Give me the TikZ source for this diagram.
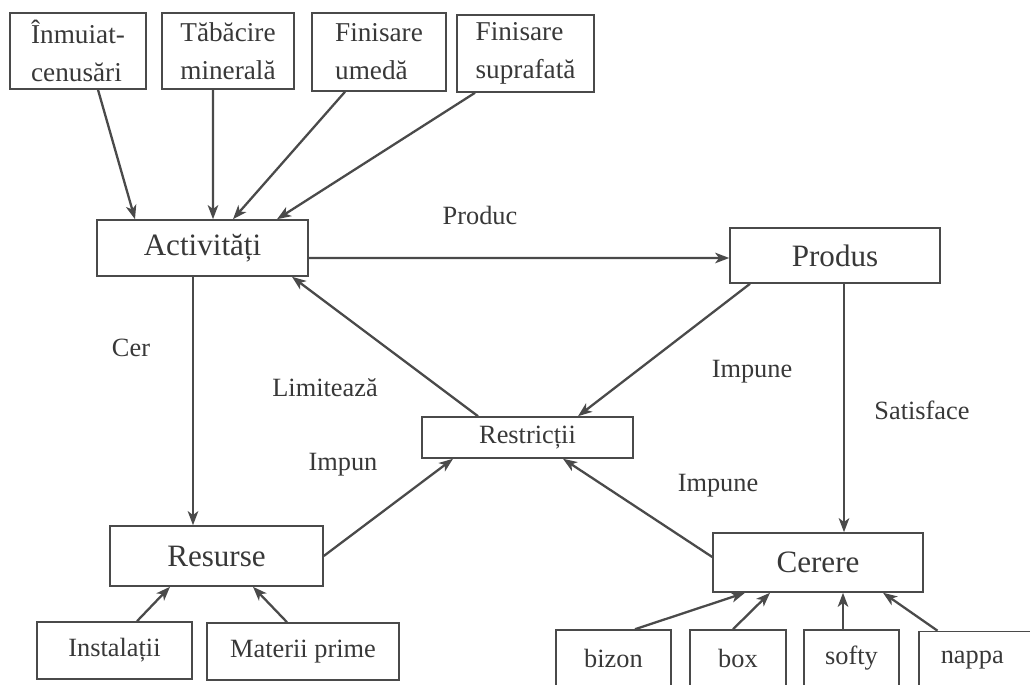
\documentclass[tikz,border=0pt]{standalone}
\usepackage{fontspec}
\setmainfont{Liberation Serif}
\usetikzlibrary{arrows.meta,calc}
\definecolor{ink}{HTML}{4A4A4A}
\definecolor{txt}{HTML}{383838}

\begin{document}
\begin{tikzpicture}[x=0.02cm,y=-0.02cm]
	\tikzset{box/.style={draw=ink,line width=0.9pt,inner sep=0pt,text=txt,font=\fontsize{15}{18}\selectfont}}
	\tikzset{bigbox/.style={box,font=\fontsize{17.7}{21}\selectfont}}
	\tikzset{topbox/.style={box,align=left,font=\fontsize{15.5}{21.5}\selectfont}}
	\tikzset{lbl/.style={text=txt,inner sep=0pt,font=\fontsize{15}{18}\selectfont}}
	\tikzset{arr/.style={draw=ink,line width=1.3pt,-{Stealth[length=8pt,width=6pt,inset=2.2pt]}}}
	\useasboundingbox (0,0) rectangle (1030,685);
	% operatii
	\node[topbox,minimum width=2.72cm,minimum height=1.52cm] (inm) at (78,51) {Înmuiat-\\cenusări};
	\node[topbox,minimum width=2.64cm,minimum height=1.52cm] (tab) at (228,51) {Tăbăcire\\minerală};
	\node[topbox,minimum width=2.68cm,minimum height=1.56cm] (fum) at (379,52) {Finisare\\umedă};
	\node[topbox,minimum width=2.74cm,minimum height=1.54cm] (fsup) at (525.5,53.5) {Finisare\\suprafată};
	% entitati
	\node[bigbox,minimum width=4.22cm,minimum height=1.12cm] (act) at (202.5,248) {Activități};
	\node[bigbox,minimum width=4.2cm,minimum height=1.1cm] (prod) at (835,255.5) {Produs};
	\node[box,minimum width=4.22cm,minimum height=0.82cm] (restr) at (527.5,437.5) {Restricții};
	\node[bigbox,minimum width=4.26cm,minimum height=1.2cm] (resu) at (216.5,556) {Resurse};
	\node[bigbox,minimum width=4.2cm,minimum height=1.18cm] (cer) at (818,562.5) {Cerere};
	% resurse si articole
	\node[box,minimum width=3.1cm,minimum height=1.14cm] (inst) at (114.5,650.5) {Instalații};
	\node[box,minimum width=3.84cm,minimum height=1.14cm] (mat) at (303,651.5) {Materii prime};
	\node[box,minimum width=2.3cm,minimum height=1.14cm] (bizon) at (613.5,658.5) {bizon};
	\node[box,minimum width=1.92cm,minimum height=1.14cm] (boxp) at (738,658.5) {box};
	\node[box,minimum width=1.9cm,minimum height=1.14cm] (softy) at (851.5,658.5) {softy};
	\node[box,anchor=west,minimum height=1.14cm,inner xsep=0.44cm,text width=2.2cm,align=left] (nappa) at (918,660) {nappa};
	% etichete
	\node[lbl] (lprod) at (480,215) {Produc};
	\node[lbl] (lcer) at (131,348) {Cer};
	\node[lbl] (llim) at (325,388) {Limitează};
	\node[lbl] (limpun) at (343,465) {Impun};
	\node[lbl] (limpsus) at (752,372) {Impune};
	\node[lbl] (lsat) at (922,410) {Satisface};
	\node[lbl] (limpjos) at (718,486) {Impune};
	% legaturi
	\draw[arr] ($(inm.south)+(20,0)$) -- ($(act.north)+(-67.5,0)$);
	\draw[arr] ($(tab.south)+(-15,0)$) -- ($(act.north)+(10.5,0)$);
	\draw[arr] ($(fum.south)+(-34,0)$) -- ($(act.north)+(30.5,0)$);
	\draw[arr] ($(fsup.south)+(-50.5,0)$) -- ($(act.north)+(74.5,0)$);
	\draw[arr] ($(act.east)+(0,10)$) -- ($(prod.west)+(0,2.5)$);
	\draw[arr] ($(act.south)+(-9.5,0)$) -- ($(resu.north)+(-23.5,0)$);
	\draw[arr] ($(restr.north)+(-49.5,0)$) -- ($(act.south)+(89.5,0)$);
	\draw[arr] ($(prod.south)+(-85,0)$) -- ($(restr.north)+(50.5,0)$);
	\draw[arr] ($(prod.south)+(9,0)$) -- ($(cer.north)+(26,0)$);
	\draw[arr] (resu.east) -- ($(restr.south)+(-74.5,0)$);
	\draw[arr] ($(cer.west)+(0,-5.5)$) -- ($(restr.south)+(35.5,0)$);
	\draw[arr] ($(inst.north)+(22.5,0)$) -- ($(resu.south)+(-46.5,0)$);
	\draw[arr] ($(mat.north)+(-16,0)$) -- ($(resu.south)+(36.5,0)$);
	\draw[arr] ($(bizon.north)+(21.5,0)$) -- ($(cer.south)+(-73,0)$);
	\draw[arr] ($(boxp.north)+(-5,0)$) -- ($(cer.south)+(-48,0)$);
	\draw[arr] ($(softy.north)+(-8.5,0)$) -- ($(cer.south)+(25,0)$);
	\draw[arr] ($(nappa.north west)+(19.5,0)$) -- ($(cer.south)+(65,0)$);
\end{tikzpicture}
\end{document}
